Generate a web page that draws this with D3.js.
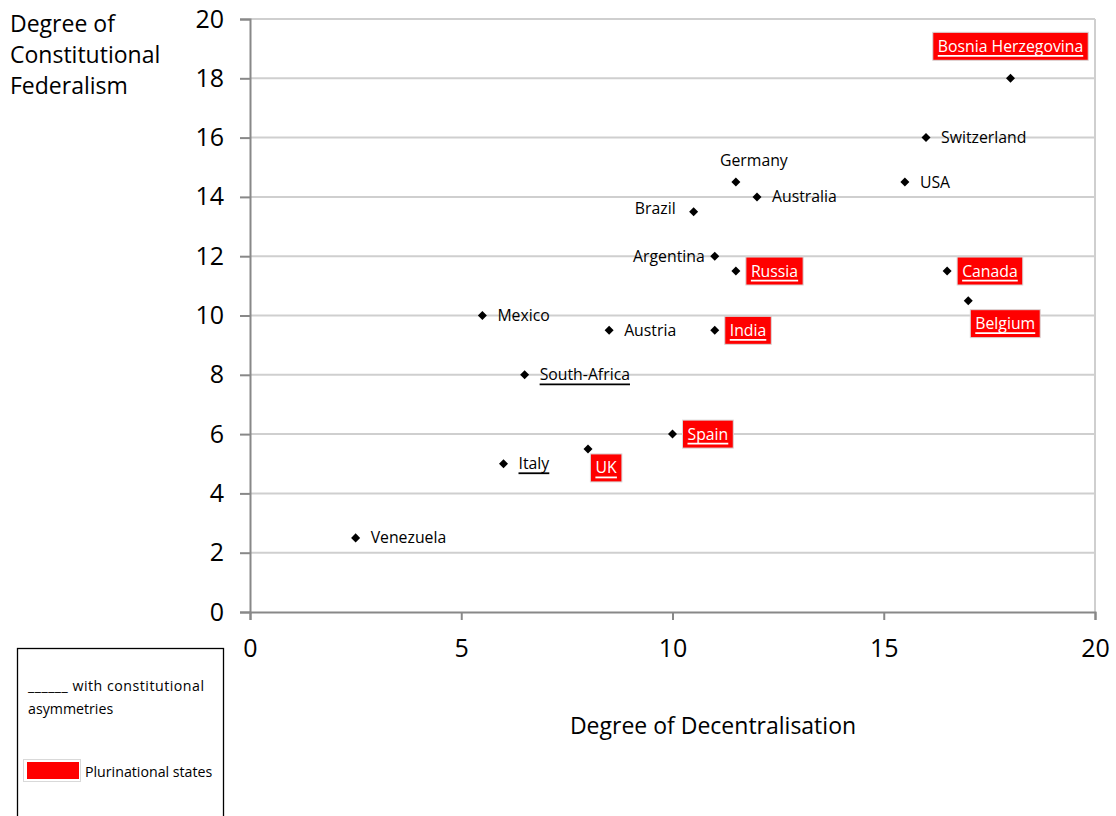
<!DOCTYPE html>
<html><head><meta charset="utf-8">
<script src="https://cdn.jsdelivr.net/npm/d3@7"></script>
<style>body{margin:0;background:#fff;} svg{display:block;font-family:"Open Sans",sans-serif;}</style>
</head><body>
<svg id="c" width="1116" height="816"></svg>
<script>
const countries = ["Venezuela","Italy","UK","Spain","South-Africa","Mexico","Austria","India","Argentina","Russia","Brazil","Germany","Australia","USA","Switzerland","Canada","Belgium","Bosnia Herzegovina"];
const decentralisation = [2.5,6,8,10,6.5,5.5,8.5,11,11,11.5,10.5,11.5,12,15.5,16,16.5,17,18];
const federalism = [2.5,5,5.5,6,8,10,9.5,9.5,12,11.5,13.5,14.5,14,14.5,16,11.5,10.5,18];
const plurinational = ["UK","Spain","India","Russia","Canada","Belgium","Bosnia Herzegovina"];
const asymmetric = ["Italy","South-Africa"];
const xTicks = [0,5,10,15,20];
const yTicks = [0,2,4,6,8,10,12,14,16,18,20];
const yTitle = ["Degree of","Constitutional","Federalism"];
const xTitle = "Degree of Decentralisation";
const legendItems = ["______ with constitutional","asymmetries","Plurinational states"];

// label placement (style): side relative to point
const labelPos = {
  "Germany":{dx:18,dy:-22,anchor:"middle"},
  "Brazil":{dx:-18,dy:-3,anchor:"end"},
  "Argentina":{dx:-10,dy:0,anchor:"end"},
  "Belgium":{dx:37,dy:23,anchor:"middle"},
  "Bosnia Herzegovina":{dx:0,dy:-32,anchor:"middle"},
  "UK":{dx:18,dy:19,anchor:"middle"}
};

const svg = d3.select("#c");
const m = {l:250, t:19, r:1095, b:612};
const x = d3.scaleLinear().domain([0,20]).range([m.l, m.r]);
const y = d3.scaleLinear().domain([0,20]).range([m.b, m.t]);

// gridlines
svg.append("g").selectAll("line").data(yTicks.filter(d=>d>0)).join("line")
  .attr("x1",m.l).attr("x2",m.r).attr("y1",d=>y(d)).attr("y2",d=>y(d))
  .attr("stroke","#cfcfcf").attr("stroke-width",2);
// right border
svg.append("line").attr("x1",m.r).attr("x2",m.r).attr("y1",m.t).attr("y2",m.b)
  .attr("stroke","#cfcfcf").attr("stroke-width",2);

// axes
const yAxis = svg.append("g").attr("transform",`translate(${m.l},0)`)
  .call(d3.axisLeft(y).tickValues(yTicks).tickSize(10).tickPadding(16));
const xAxis = svg.append("g").attr("transform",`translate(0,${m.b})`)
  .call(d3.axisBottom(x).tickValues(xTicks).tickSize(8).tickPadding(19));
[xAxis,yAxis].forEach(a=>{
  a.select(".domain").attr("stroke","#888").attr("stroke-width",2);
  a.selectAll(".tick line").attr("stroke","#888").attr("stroke-width",2);
  a.selectAll(".tick text").attr("font-family","'Open Sans',sans-serif").attr("font-size",25).attr("fill","#000");
});
xAxis.selectAll(".tick text").attr("dy","0.71em");

// titles
svg.append("text").attr("x",10).attr("y",25).attr("font-size",23).attr("fill","#000")
  .selectAll("tspan").data(yTitle).join("tspan").attr("x",10).attr("dy",(d,i)=>i?31:7).text(d=>d);
svg.append("text").attr("x",713).attr("y",734).attr("text-anchor","middle").attr("font-size",23).text(xTitle);

// points
const data = countries.map((c,i)=>({name:c, dx:decentralisation[i], fy:federalism[i]}));
svg.append("g").selectAll("path").data(data).join("path")
  .attr("d", d3.symbol().type(d3.symbolDiamond2).size(52))
  .attr("transform",d=>`translate(${x(d.dx)},${y(d.fy)})`).attr("fill","#000");

// labels
const lg = svg.append("g");
data.forEach(d=>{
  const p = labelPos[d.name] || {dx:15,dy:0,anchor:"start"};
  const px = x(d.dx)+p.dx, py = y(d.fy)+p.dy;
  const g = lg.append("g");
  const isP = plurinational.includes(d.name);
  const t = g.append("text").attr("x",px).attr("y",py).attr("dy","0.35em")
    .attr("text-anchor",p.anchor).attr("font-size",15.8)
    .attr("fill", isP ? "#fff" : "#000").text(d.name);
  const bb = t.node().getBBox();
  if (isP) {
    g.insert("rect","text").attr("x",bb.x-5).attr("y",py-14).attr("width",bb.width+10).attr("height",28)
      .attr("fill","#ff0000").attr("stroke","#d9d9d9").attr("stroke-width",1);
  }
  if (isP || asymmetric.includes(d.name)) {
    g.append("line").attr("x1",bb.x).attr("x2",bb.x+bb.width).attr("y1",py+9.5).attr("y2",py+9.5)
      .attr("stroke",isP?"#fff":"#000").attr("stroke-width",1.8);
  }
});

// legend
const L = svg.append("g");
L.append("rect").attr("x",17.5).attr("y",648.5).attr("width",206).attr("height",180)
  .attr("fill","#fff").attr("stroke","#000").attr("stroke-width",1.3);
L.append("text").attr("x",28).attr("y",691).attr("font-size",14.2).attr("textLength",176).text(legendItems[0]);
L.append("text").attr("x",28).attr("y",714).attr("font-size",14.2).text(legendItems[1]);
L.append("rect").attr("x",23.5).attr("y",759.5).attr("width",57).attr("height",22).attr("fill","#fff").attr("stroke","#d9d9d9");
L.append("rect").attr("x",27).attr("y",762).attr("width",52).attr("height",17).attr("fill","#ff0000");
L.append("text").attr("x",85).attr("y",777).attr("font-size",14.2).text(legendItems[2]);
</script>
</body></html>
